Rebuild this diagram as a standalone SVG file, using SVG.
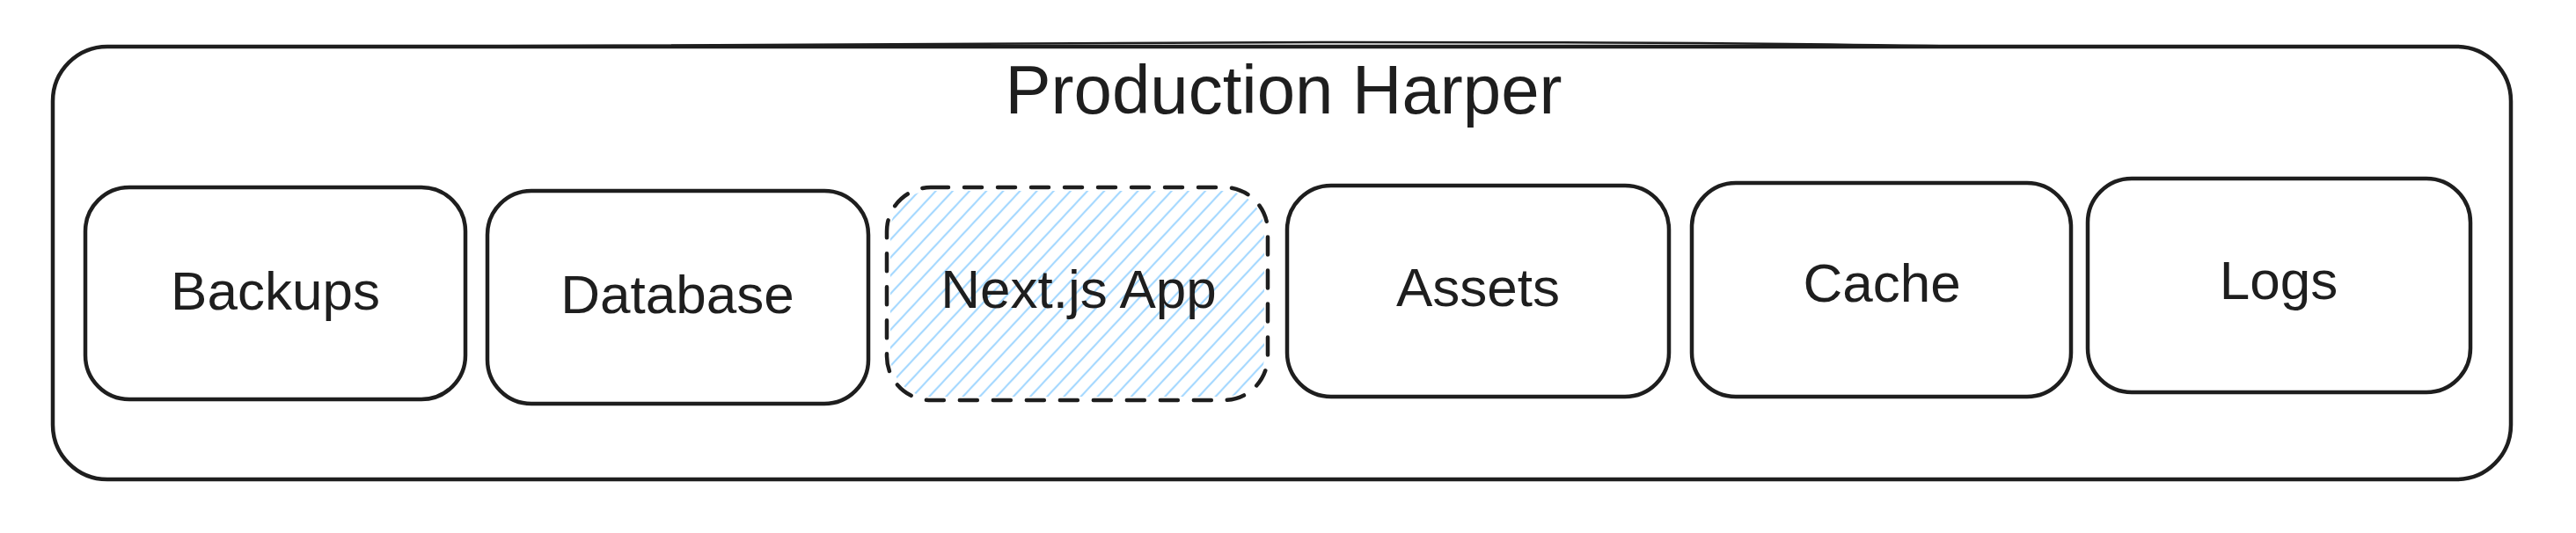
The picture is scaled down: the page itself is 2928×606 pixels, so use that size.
<svg xmlns="http://www.w3.org/2000/svg" width="2928" height="606" viewBox="0 0 2928 606">
  <style>
    .box { fill: #ffffff; stroke: #1e1e1e; stroke-width: 4.5; stroke-linejoin: round; }
    .dash { fill: none; stroke: #1e1e1e; stroke-width: 4.5; stroke-dasharray: 20 18; stroke-linecap: round; }
    .label { font-family: "Liberation Sans", Arial, sans-serif; font-size: 62px; fill: #1e1e1e; text-anchor: middle; }
    .title { font-family: "Liberation Sans", Arial, sans-serif; font-size: 78px; fill: #1e1e1e; text-anchor: middle; }
  </style>
  <defs>
    <pattern id="hatch" patternUnits="userSpaceOnUse" width="14" height="14" patternTransform="rotate(43)">
      <line x1="2" y1="0" x2="2" y2="14" stroke="#a5d8ff" stroke-width="2.2"/>
    </pattern>
  </defs>
  <rect width="2928" height="606" fill="#ffffff"/>

  <g id="production-harper">
    <rect class="box" x="60" y="53" width="2794" height="492" rx="62" ry="62"/>
    <path d="M420 53 C 700 49, 1100 48, 1500 48 S 2000 49, 2250 53" fill="none" stroke="#1e1e1e" stroke-width="2.5" stroke-linecap="round"/>
    <text class="title" x="1459" y="129">Production Harper</text>
  </g>

  <g id="backups">
    <rect class="box" x="97" y="213" width="432" height="241" rx="50" ry="50"/>
    <text class="label" x="313" y="352">Backups</text>
  </g>

  <g id="database">
    <rect class="box" x="554" y="217" width="433" height="242" rx="50" ry="50"/>
    <text class="label" x="770" y="356">Database</text>
  </g>

  <g id="nextjs-app">
    <rect x="1012" y="217" width="425" height="234" rx="46" ry="46" fill="url(#hatch)"/>
    <rect class="dash" x="1008" y="213" width="433" height="242" rx="50" ry="50"/>
    <text class="label" x="1226" y="350">Next.js App</text>
  </g>

  <g id="assets">
    <rect class="box" x="1463" y="211" width="434" height="240" rx="50" ry="50"/>
    <text class="label" x="1680" y="348">Assets</text>
  </g>

  <g id="cache">
    <rect class="box" x="1923" y="208" width="431" height="243" rx="50" ry="50"/>
    <text class="label" x="2139" y="343">Cache</text>
  </g>

  <g id="logs">
    <rect class="box" x="2373" y="203" width="435" height="243" rx="50" ry="50"/>
    <text class="label" x="2590" y="340">Logs</text>
  </g>

  <g id="connectors"></g>
</svg>
